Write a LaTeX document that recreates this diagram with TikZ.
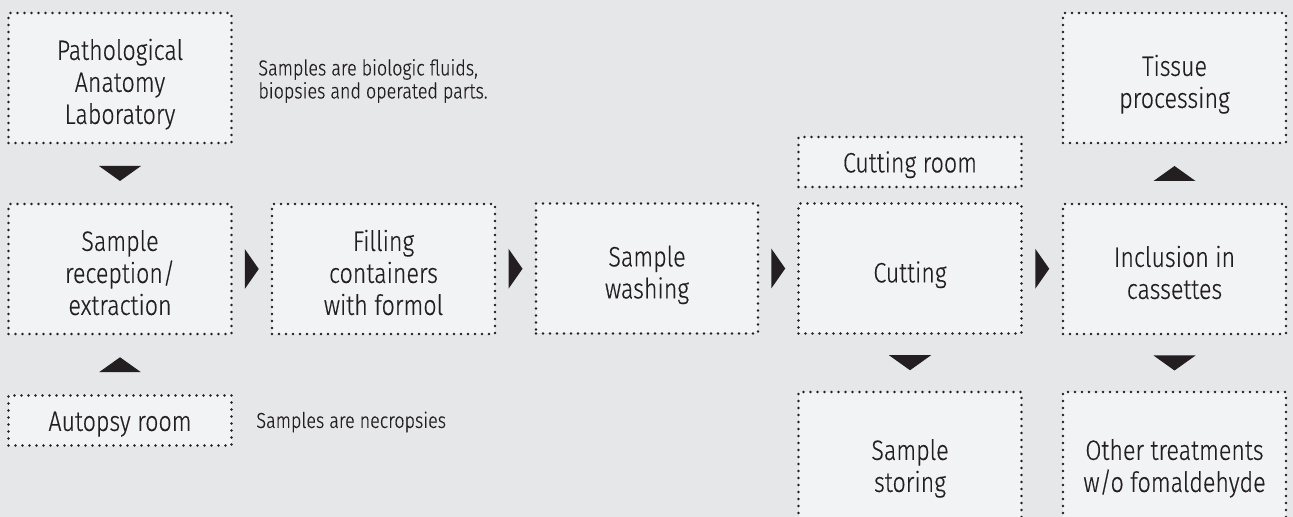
\documentclass[tikz,border=0pt]{standalone}
\usepackage{fontspec}
\setmainfont{Fira Sans Light}[FakeStretch=0.83, FakeBold=0.4]
\usepackage{tikz}
\usetikzlibrary{positioning,calc}
\definecolor{bgcol}{HTML}{E6E7E9}
\definecolor{boxcol}{HTML}{F2F3F5}
\definecolor{txtcol}{HTML}{231F20}
\newcommand{\boxlines}[1]{\begin{tabular}{@{}c@{}}#1\end{tabular}}

\begin{document}
\begin{tikzpicture}[
x=0.5pt, y=-0.5pt,
font=\fontsize{14}{16}\selectfont,
text=txtcol,
step box/.style={draw=txtcol, fill=boxcol, line width=1.4pt, dash pattern=on 0pt off 3.5pt, line cap=round,
  minimum width=111.5pt, minimum height=65pt, inner sep=0pt, text height=14.7pt, text depth=0pt},
room box/.style={step box, minimum height=25pt, text height=11.2pt},
note/.style={align=left, anchor=west, inner sep=0pt, font=\fontsize{10.8}{11.5}\selectfont},
tri down/.pic={\fill[txtcol] (-21,-7.5) -- (21,-7.5) -- (0,7.5) -- cycle;},
tri up/.pic={\fill[txtcol] (-21,7.5) -- (21,7.5) -- (0,-7.5) -- cycle;},
tri right/.pic={\fill[txtcol] (-7,-20) -- (-7,20) -- (7,0) -- cycle;}
]
% Canvas
\useasboundingbox (0,0) rectangle (1293,517);
\clip (0,0) rectangle (1293,517);
\fill[bgcol] (0,0) rectangle (1293,517);

% Left column
\node[step box] (lab) at (120,78) {\boxlines{Pathological\\Anatomy\\Laboratory}};
\node[step box] (recv) at (120,269) {\boxlines{Sample\\reception/\\extraction}};
\node[room box] (autopsy) at (120,420.5) {\boxlines{Autopsy room}};
\node[note] (labnote) at (258,81) {Samples are biologic fluids,\\biopsies and operated parts.};
\node[note] (autonote) at (256,422) {Samples are necropsies};

% Main row
\node[step box] (fill) at (383.5,269) {\boxlines{Filling\\containers\\with formol}};
\node[step box, minimum width=111pt] (wash) at (647,268.5) {\boxlines{Sample\\washing}};
\node[step box] (cut) at (910,268.5) {\boxlines{Cutting}};
\node[room box] (croom) at (910,162) {\boxlines{Cutting room}};
\node[step box] (incl) at (1174.5,269) {\boxlines{Inclusion in\\cassettes}};

% Right columns
\node[step box] (tissue) at (1174.5,78) {\boxlines{Tissue\\processing}};
\node[step box, minimum height=70pt] (store) at (910,462) {\boxlines{Sample\\storing}};
\node[step box, minimum height=70pt] (other) at (1174.5,462) {\boxlines{Other treatments\\w/o fomaldehyde}};

% Arrow heads
\path (lab) -- (recv) coordinate[midway] (t1);
\path (autopsy) -- (recv) coordinate[midway] (t2);
\path (recv) -- (fill) coordinate[midway] (t3);
\path (fill) -- (wash) coordinate[midway] (t4);
\path (wash) -- (cut) coordinate[midway] (t5);
\path (cut) -- (incl) coordinate[midway] (t6);
\path (incl) -- (tissue) coordinate[midway] (t7);
\path (cut) -- (store) coordinate[midway] (t8);
\path (incl) -- (other) coordinate[midway] (t9);
\pic at (t1) {tri down};
\pic at (t2) {tri up};
\pic at (t3) {tri right};
\pic at (t4) {tri right};
\pic at (t5) {tri right};
\pic at (t6) {tri right};
\pic at (t7) {tri up};
\pic at (t8) {tri down};
\pic at (t9) {tri down};
\end{tikzpicture}
\end{document}
